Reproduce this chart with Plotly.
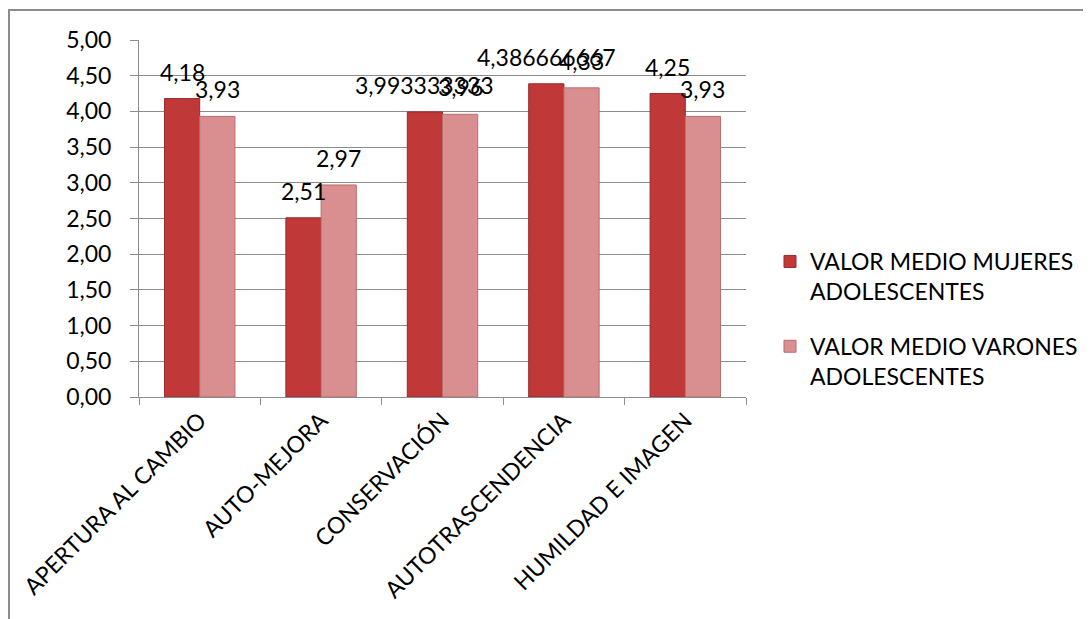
import plotly.graph_objects as go

categories = ["APERTURA AL CAMBIO", "AUTO-MEJORA", "CONSERVACIÓN", "AUTOTRASCENDENCIA", "HUMILDAD E IMAGEN"]
mujeres = [4.18, 2.51, 3.9933333333, 4.3866666667, 4.25]
varones = [3.93, 2.97, 3.96, 4.33, 3.93]
series_names = ["VALOR MEDIO MUJERES<br>ADOLESCENTES", "VALOR MEDIO VARONES<br>ADOLESCENTES"]
y_ticks = [0, 0.5, 1, 1.5, 2, 2.5, 3, 3.5, 4, 4.5, 5]

FONT = "Lato"
FS = 23
GRAY = "#8c8c8c"

OFF = 8  # page body margin
W, H = 1091 - OFF, 619 - OFF
ML, MR, MT, MB = 139 - OFF, 345, 40 - OFF, 222
plot_w = W - ML - MR
plot_h = H - MT - MB
BARGAP = 0.42
bar_px = plot_w / len(categories) * (1 - BARGAP) / 2


def fmt(v):
    return format(v, ".10g").replace(".", ",")


fig = go.Figure()
fig.add_trace(go.Bar(
    x=categories, y=mujeres, name=series_names[0], legendgroup="m",
    marker=dict(color="#c13839", line=dict(color="#9a2a2c", width=1)),
))
fig.add_trace(go.Bar(
    x=categories, y=varones, name=series_names[1], legendgroup="v",
    marker=dict(color="#d98f8f", line=dict(color="#b86d6d", width=1)),
))

for vals, shift in ((mujeres, -bar_px / 2), (varones, bar_px / 2)):
    for c, v in zip(categories, vals):
        fig.add_annotation(
            x=c, y=v, text=fmt(v), showarrow=False,
            xanchor="center", yanchor="bottom", xshift=shift, yshift=11,
            font=dict(family=FONT, size=FS, color="black"),
        )

# outer chart border (only top/left visible)
fig.add_shape(
    type="rect", xref="paper", yref="paper",
    x0=(9 - OFF - ML) / plot_w, x1=(W + 5 - ML) / plot_w,
    y0=-(H + 5 - (MT + plot_h)) / plot_h, y1=1 + (MT - (10 - OFF)) / plot_h,
    line=dict(color=GRAY, width=2), fillcolor="rgba(0,0,0,0)", layer="below",
)

fig.update_layout(
    width=W, height=H,
    margin=dict(l=ML, r=MR, t=MT, b=MB, autoexpand=False),
    paper_bgcolor="white", plot_bgcolor="white",
    barmode="group", bargap=BARGAP, bargroupgap=0,
    separators=",.",
    font=dict(family=FONT, size=FS, color="black"),
    showlegend=True,
    legend=dict(
        x=(770 - OFF - ML) / plot_w, xanchor="left",
        y=(MT + plot_h - (240 - OFF)) / plot_h, yanchor="top",
        font=dict(family=FONT, size=FS, color="black"),
        tracegroupgap=22, valign="top", bgcolor="rgba(0,0,0,0)",
    ),
    xaxis=dict(
        type="category", tickangle=-45, automargin=False,
        showline=True, linecolor=GRAY, linewidth=1,
        ticks="outside", tickson="boundaries", ticklen=7, tickcolor=GRAY,
        showgrid=False,
        tickfont=dict(family=FONT, size=FS, color="black"),
    ),
    yaxis=dict(
        range=[0, 5], tickvals=y_ticks, tickformat=".2f", automargin=False,
        showline=True, linecolor=GRAY, linewidth=1,
        ticks="outside", ticklen=8, tickcolor=GRAY,
        showgrid=True, gridcolor=GRAY, gridwidth=1,
        zeroline=False, ticklabelstandoff=14,
        tickfont=dict(family=FONT, size=FS, color="black"),
    ),
)

fig.write_html("out.html")
